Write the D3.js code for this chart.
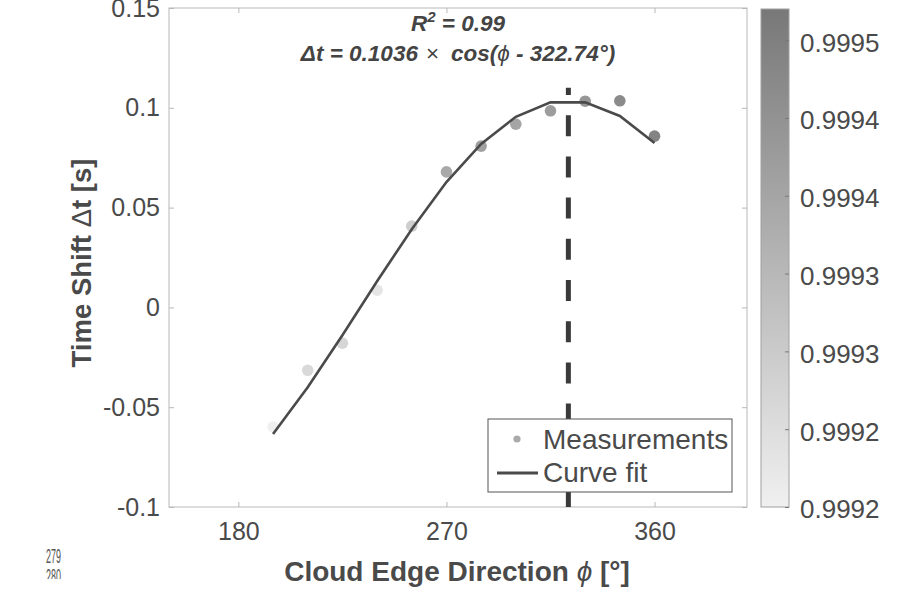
<!DOCTYPE html>
<html><head><meta charset="utf-8">
<script src="https://cdn.jsdelivr.net/npm/d3@7"></script>
<style>
html,body{margin:0;padding:0;background:#fff;}
svg{display:block;}
text{font-family:"Liberation Sans",Arial,Helvetica,sans-serif;}
</style></head>
<body>
<svg id="chart" width="910" height="599"></svg>
<script>
// ---- data ----
const directions = [195,210,225,240,255,270,285,300,315,330,345,360];
const measuredShift = [-0.0599,-0.0315,-0.0179,0.0086,0.0407,0.0679,0.0808,0.0918,0.0985,0.1033,0.1035,0.0858];
const correlation = [0.99920,0.99926,0.99927,0.99923,0.99929,0.99939,0.99941,0.99940,0.99942,0.99944,0.99947,0.99949];
const fitShift = [-0.0634,-0.0400,-0.0140,0.0131,0.0392,0.0628,0.0819,0.0955,0.1027,0.1028,0.0959,0.0824];
const peakDirection = 322.74;
const peakLineRange = [-0.1, 0.11];
const xTicks = [180,270,360];
const xTickLabels = ["180","270","360"];
const yTicks = [-0.1,-0.05,0,0.05,0.1,0.15];
const yTickLabels = ["-0.1","-0.05","0","0.05","0.1","0.15"];
const cbTicks = [0.99920,0.99925,0.99930,0.99935,0.99940,0.99945,0.99950];
const cbTickLabels = ["0.9992","0.9992","0.9993","0.9993","0.9994","0.9994","0.9995"];
const cbDomain = [0.99920,0.99952];
const legendLabels = ["Measurements","Curve fit"];

// ---- layout ----
const svg = d3.select("#chart");
const L=169, R=747, T=8, B=507;
const x = d3.scaleLinear([150,400],[L,R]);
const y = d3.scaleLinear([-0.1,0.15],[B,T]);
const col = d3.scaleLinear(cbDomain,["#f0f0f0","#787878"]);
const axisColor = "#b8b8b8", textColor = "#4a4a4a";

// plot box
svg.append("rect").attr("x",L).attr("y",T).attr("width",R-L).attr("height",B-T)
  .attr("fill","#fff").attr("stroke",axisColor).attr("stroke-width",1);

function styleAxis(g){
  g.select(".domain").remove();
  g.selectAll(".tick line").attr("stroke",axisColor);
  g.selectAll(".tick text").attr("fill",textColor).style("font-size","25px");
}
// x axes (bottom + top mirror)
svg.append("g").attr("transform",`translate(0,${B})`)
  .call(d3.axisBottom(x).tickValues(xTicks).tickFormat((d,i)=>xTickLabels[i]).tickSize(-5).tickPadding(15))
  .call(styleAxis);
svg.append("g").attr("transform",`translate(0,${T})`)
  .call(d3.axisTop(x).tickValues(xTicks).tickFormat("").tickSize(-5))
  .call(styleAxis);
// y axes
svg.append("g").attr("transform",`translate(${L},0)`)
  .call(d3.axisLeft(y).tickValues(yTicks).tickFormat((d,i)=>yTickLabels[i]).tickSize(-5).tickPadding(9))
  .call(styleAxis);
svg.append("g").attr("transform",`translate(${R},0)`)
  .call(d3.axisRight(y).tickValues(yTicks).tickFormat("").tickSize(-5))
  .call(styleAxis);

// peak dashed line
svg.append("line")
  .attr("x1",x(peakDirection)).attr("x2",x(peakDirection))
  .attr("y1",y(peakLineRange[0])).attr("y2",y(peakLineRange[1]))
  .attr("stroke","#3a3a3a").attr("stroke-width",5).attr("stroke-dasharray","21,20.2");

// measurements
svg.append("g").selectAll("circle").data(directions).join("circle")
  .attr("cx",d=>x(d)).attr("cy",(d,i)=>y(measuredShift[i])).attr("r",5.8)
  .attr("fill",(d,i)=>col(correlation[i]));

// fit line
svg.append("path").datum(directions)
  .attr("d",d3.line().x(d=>x(d)).y((d,i)=>y(fitShift[i])))
  .attr("fill","none").attr("stroke","#4a4a4a").attr("stroke-width",2.6);

// annotation
const ann = svg.append("text").attr("x",(L+R)/2).attr("y",31).attr("text-anchor","middle")
  .attr("fill","#444").style("font-size","22.5px").style("font-weight","bold").style("font-style","italic");
ann.append("tspan").text("R");
ann.append("tspan").attr("dy",-9).style("font-size","15px").text("2");
ann.append("tspan").attr("dy",9).text(" = 0.99");
const ann2 = svg.append("text").attr("x",(L+R)/2).attr("y",61).attr("text-anchor","middle")
  .attr("fill","#444").style("font-size","22.5px").style("font-weight","bold").style("font-style","italic");
ann2.append("tspan").text("\u0394t = 0.1036");
ann2.append("tspan").attr("dx",8).style("font-weight","normal").style("font-style","normal").text("\u00d7");
ann2.append("tspan").attr("dx",12).text("cos(");
ann2.append("tspan").style("font-weight","normal").text("\u03d5");
ann2.append("tspan").text(" - 322.74\u00b0)");

// legend
const lg = svg.append("g");
lg.append("rect").attr("x",488).attr("y",419).attr("width",244).attr("height",73)
  .attr("fill","#fff").attr("stroke","#555").attr("stroke-width",1);
lg.append("circle").attr("cx",517).attr("cy",439).attr("r",3.6).attr("fill","#aaaaaa");
lg.append("line").attr("x1",497).attr("x2",538).attr("y1",473).attr("y2",473)
  .attr("stroke","#4a4a4a").attr("stroke-width",3);
lg.selectAll("text.lt").data(legendLabels).join("text").attr("class","lt")
  .attr("x",543).attr("y",(d,i)=>449+i*33).attr("fill",textColor)
  .style("font-size","28px").text(d=>d);

// axis labels
const xl = svg.append("text").attr("x",457).attr("y",581).attr("text-anchor","middle")
  .attr("fill",textColor).style("font-size","28px").style("font-weight","bold");
xl.append("tspan").text("Cloud Edge Direction ");
xl.append("tspan").style("font-weight","normal").style("font-style","italic").text("\u03d5");
xl.append("tspan").text(" [\u00b0]");
const yl = svg.append("text").attr("transform","translate(91,263) rotate(-90)").attr("text-anchor","middle")
  .attr("fill",textColor).style("font-size","27.5px").style("font-weight","bold");
yl.append("tspan").text("Time Shift ");
yl.append("tspan").style("font-weight","normal").text("\u0394");
yl.append("tspan").text("t [s]");

// colorbar
const cbL=761, cbR=789, cbT=9, cbB=507;
const cy = d3.scaleLinear(cbDomain,[cbB,cbT]);
const defs = svg.append("defs");
const grad = defs.append("linearGradient").attr("id","cbg").attr("x1",0).attr("x2",0).attr("y1",1).attr("y2",0);
grad.selectAll("stop").data([0,1]).join("stop")
  .attr("offset",d=>d).attr("stop-color",d=>col(cbDomain[0]+d*(cbDomain[1]-cbDomain[0])));
svg.append("rect").attr("x",cbL).attr("y",cbT).attr("width",cbR-cbL).attr("height",cbB-cbT)
  .attr("fill","url(#cbg)").attr("stroke","#a0a0a0").attr("stroke-width",1);
svg.append("g").attr("transform",`translate(${cbR},0)`)
  .call(d3.axisRight(cy).tickValues(cbTicks).tickFormat((d,i)=>cbTickLabels[i]).tickSize(-4).tickPadding(11))
  .call(g=>{g.select(".domain").remove();
    g.selectAll(".tick line").attr("stroke","#777");
    g.selectAll(".tick text").attr("fill",textColor).attr("dy","0.42em").style("font-size","26px");});

// stray line numbers
defs.append("clipPath").attr("id","clipnum").append("rect").attr("x",0).attr("y",540).attr("width",120).attr("height",39);
const nums = svg.append("g").attr("clip-path","url(#clipnum)");
nums.selectAll("text").data(["279","280"]).join("text")
  .attr("x",46).attr("y",(d,i)=>563+i*20).attr("fill","#555")
  .attr("textLength",15).attr("lengthAdjust","spacingAndGlyphs")
  .style("font-size","20px").text(d=>d);
</script>
</body></html>
